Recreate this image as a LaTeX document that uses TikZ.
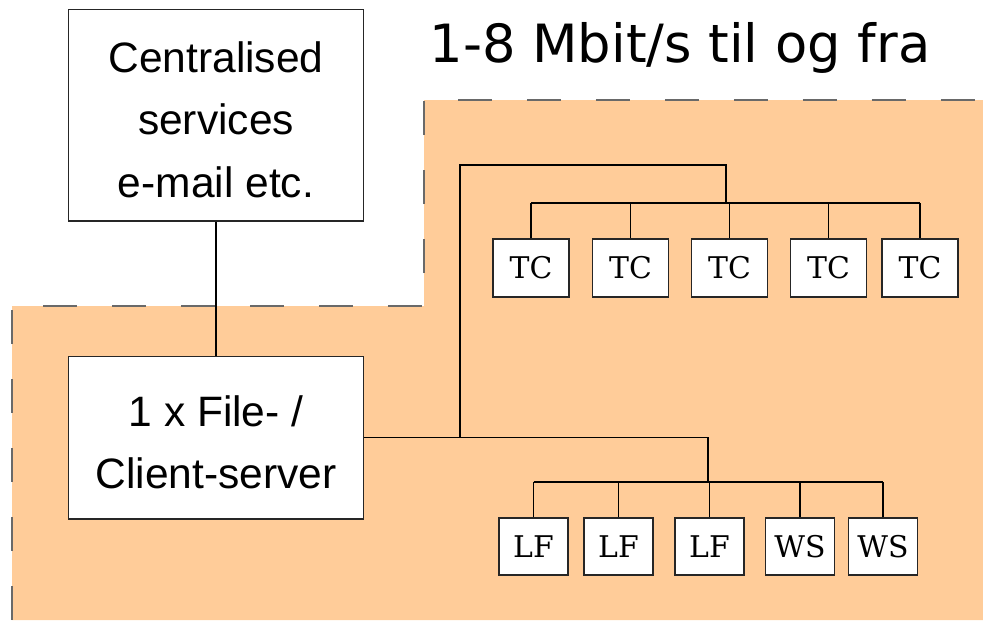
\documentclass[tikz,border=0pt]{standalone}
\usepackage{fontspec}
\setmainfont{Liberation Sans}
\newfontfamily\ratefont{DejaVu Sans}
\newfontfamily\termfont{DejaVu Serif}
\usetikzlibrary{positioning}
\definecolor{lanfill}{RGB}{255,204,153}
\definecolor{lanedge}{RGB}{105,105,105}
\newcommand\topstrut{\rule{0pt}{0.8cm}}

\begin{document}
\begin{tikzpicture}[
  x=0.02cm, y=-0.02cm,
  box/.style={draw=black!85, fill=white, line width=0.6pt, inner sep=0pt, align=center},
  srv/.style={box, minimum width=5.9cm, font=\fontsize{24.2}{35.5}\selectfont},
  tcbox/.style={box, minimum width=1.52cm, minimum height=1.16cm, font=\termfont\fontsize{17}{20}\selectfont},
  lfbox/.style={box, minimum width=1.38cm, minimum height=1.14cm, font=\termfont\fontsize{17}{20}\selectfont},
  link/.style={line width=0.6pt},
  zone/.style={draw=lanedge, line width=0.8pt, dash pattern=on 0.68cm off 0.7cm}
]
\useasboundingbox (0,0) rectangle (983,620);

% local network area
\fill[lanfill] (12,620) -- (12,306) -- (424,306) -- (424,100) -- (983,100) -- (983,620) -- cycle;
\draw[zone] (12,620) -- (12,306) -- (424,306) -- (424,100) -- (983,100);

\node[anchor=base, font=\ratefont\fontsize{30}{36}\selectfont] (rate) at (680,62) {1-8 Mbit/s til og fra};

\node[srv, minimum height=4.24cm] (central) at (216,115) {\topstrut Centralised\\services\\e-mail etc.};
\node[srv, minimum height=3.26cm] (server) at (216,437.5) {\topstrut 1 x File- /\\Client-server};

% thin clients
\node[tcbox] (tc1) at (531,268) {TC};
\node[tcbox] (tc2) at (630.5,268) {TC};
\node[tcbox] (tc3) at (729.5,268) {TC};
\node[tcbox] (tc4) at (828.5,268) {TC};
\node[tcbox] (tc5) at (920,268) {TC};

% fat clients and workstations
\node[lfbox] (lf1) at (533.5,546.5) {LF};
\node[lfbox] (lf2) at (618.5,546.5) {LF};
\node[lfbox] (lf3) at (709.5,546.5) {LF};
\node[lfbox] (ws1) at (800,546.5) {WS};
\node[lfbox] (ws2) at (883,546.5) {WS};

\coordinate (split) at (460,437);
\coordinate (tcbus) at (726,203);
\coordinate (lfbus) at (708,482);

\draw[link] (central) -- (server);
\draw[link] (server.east) -- (lfbus |- server.east) -- (lfbus);
\draw[link] (split) -- (460,165) -| (tcbus);
\draw[link] (tc1.north |- tcbus) -- (tc5.north |- tcbus);
\draw[link] (lf1.north |- lfbus) -- (ws2.north |- lfbus);
\foreach \n in {tc1,tc2,tc3,tc4,tc5}
  \draw[link] (\n.north) -- (\n.north |- tcbus);
\foreach \n in {lf1,lf2,lf3,ws1,ws2}
  \draw[link] (\n.north) -- (\n.north |- lfbus);
\end{tikzpicture}
\end{document}
